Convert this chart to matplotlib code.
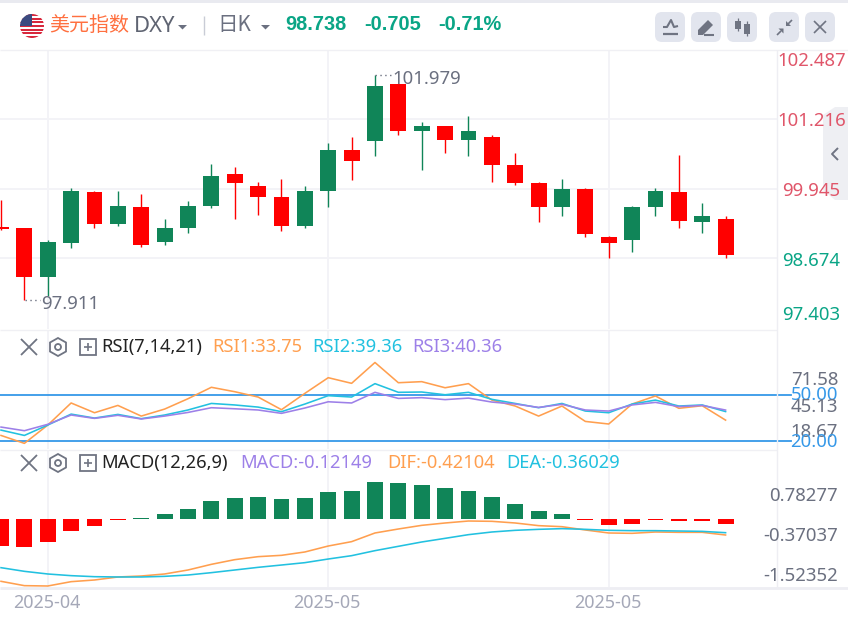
import matplotlib
matplotlib.use("Agg")
import matplotlib.pyplot as plt
from matplotlib.patches import Circle, FancyBboxPatch, Polygon, Rectangle

W, H = 848, 621

# candles, red = close below open
opens = [99.241, 99.222, 98.339, 98.948, 99.881, 99.302, 99.606, 98.973, 99.222, 99.631, 100.210,
         99.990, 99.795, 99.271, 99.905, 100.648, 100.813, 101.855, 101.002, 101.087, 100.837,
         100.892, 100.374, 100.045, 99.606, 99.935, 99.058, 99.003, 99.606, 99.881, 99.332, 99.387]
closes = [99.204, 98.339, 98.973, 99.905, 99.302, 99.631, 98.918, 99.222, 99.631, 100.179, 100.045,
          99.795, 99.271, 99.905, 100.648, 100.453, 101.825, 101.002, 101.087, 100.837, 101.002,
          100.374, 100.045, 99.606, 99.935, 99.113, 98.948, 99.606, 99.905, 99.357, 99.442, 98.729]
highs = [99.740, 99.222, 99.009, 99.960, 99.905, 99.905, 99.850, 99.387, 99.716, 100.399, 100.344,
         100.069, 100.124, 99.990, 100.782, 100.892, 102.026, 101.855, 101.166, 101.087, 101.276,
         100.923, 100.594, 100.069, 100.124, 99.960, 99.082, 99.631, 99.960, 100.563, 99.686, 99.442]
lows = [99.192, 97.912, 97.985, 98.869, 99.222, 99.271, 98.887, 98.918, 99.143, 99.600, 99.387,
        99.466, 99.168, 99.222, 99.606, 100.100, 100.539, 100.923, 100.289, 100.594, 100.539,
        100.069, 100.015, 99.332, 99.442, 99.058, 98.674, 98.784, 99.442, 99.222, 99.143, 98.674]

rsi1 = [23.7, 18.5, 30.5, 45.0, 38.6, 43.4, 36.4, 41.0, 47.8, 55.3, 52.4, 48.9, 40.6, 51.3, 61.6, 57.9,
        71.58, 58.3, 59.0, 55.0, 57.7, 46.9, 43.0, 36.4, 43.0, 32.9, 31.2, 44.3, 49.6, 41.5, 43.2, 33.75]
rsi2 = [27.2, 23.7, 30.5, 37.7, 35.1, 37.5, 34.7, 37.1, 40.4, 44.7, 43.7, 42.3, 39.3, 44.3, 49.8, 48.9,
        57.7, 52.0, 52.2, 50.4, 52.0, 47.4, 44.7, 41.9, 44.7, 39.7, 38.6, 44.3, 46.9, 43.0, 43.7, 39.36]
rsi3 = [29.2, 26.8, 31.0, 37.1, 34.9, 36.9, 34.5, 36.4, 38.8, 41.9, 41.2, 40.4, 38.2, 41.7, 45.8, 45.0,
        52.0, 48.0, 48.5, 47.2, 48.2, 45.6, 44.3, 42.1, 44.1, 40.4, 39.7, 43.7, 45.4, 42.6, 43.4, 40.36]

macd = [-0.711, -0.737, -0.605, -0.316, -0.184, -0.018, 0.018, 0.132, 0.263, 0.474, 0.553, 0.579, 0.526,
        0.553, 0.711, 0.737, 0.974, 0.947, 0.895, 0.816, 0.737, 0.579, 0.395, 0.211, 0.132, -0.018,
        -0.158, -0.132, -0.018, -0.044, -0.044, -0.12149]
dif = [-1.640, -1.754, -1.763, -1.649, -1.605, -1.526, -1.500, -1.447, -1.342, -1.193, -1.070, -0.991,
       -0.956, -0.868, -0.711, -0.596, -0.368, -0.263, -0.167, -0.105, -0.053, -0.061, -0.105, -0.175,
       -0.202, -0.289, -0.368, -0.377, -0.342, -0.351, -0.351, -0.42104]
dea = [-1.281, -1.377, -1.447, -1.491, -1.518, -1.526, -1.526, -1.509, -1.474, -1.412, -1.342, -1.272,
       -1.211, -1.149, -1.053, -0.965, -0.833, -0.719, -0.605, -0.509, -0.412, -0.342, -0.298, -0.272,
       -0.254, -0.272, -0.298, -0.307, -0.307, -0.316, -0.325, -0.36029]

price_grid = [101.216, 99.945, 98.674]
rsi_levels = [50, 20]
month_pos = [2, 14, 26]
month_labels = ["2025-04", "2025-05", "2025-05"]

UP = "#108558"
DOWN = "#ff0000"
GRID = "#f3f3f7"
ORANGE = "#ff9f4f"
CYAN = "#22c1e0"
PURPLE = "#9d80e8"
BLUE = "#3598e8"
TEAL = "#0aa586"
ROSE = "#e0566a"
GREY = "#6b7080"
ICON = "#6f7482"
LATIN = ["Noto Sans", "DejaVu Sans"]
CJK = ["Noto Sans CJK SC", "DejaVu Sans"]

plt.rcParams["font.family"] = LATIN

fig = plt.figure(figsize=(W / 100, H / 100), dpi=100, facecolor="white")


def panel(top, bottom):
    ax = fig.add_axes([0, 1 - bottom / H, 777 / W, (bottom - top) / H])
    ax.set_xlim(-0.043, 33.2)
    ax.set_xticks([])
    ax.set_yticks([])
    for s in ax.spines.values():
        s.set_visible(False)
    for m in month_pos:
        ax.axvline(m, color=GRID, lw=1.4, zorder=0)
    return ax


# price panel
ax1 = panel(50, 329)
ax1.set_ylim(98.674 - 70.7 / 54.7, 98.674 + 208.3 / 54.7)
for g in price_grid:
    ax1.axhline(g, color=GRID, lw=1.4, zorder=0)
x = list(range(len(opens)))
colors = [UP if c >= o else DOWN for o, c in zip(opens, closes)]
ax1.vlines(x, lows, highs, colors=colors, lw=1.0, zorder=2)
ax1.bar(x, [c - o for o, c in zip(opens, closes)], bottom=opens, width=0.68, color=colors, zorder=3)

# rsi panel
ax2 = panel(330, 449)
ax2.set_ylim(14.8, 92.9)
for v in rsi_levels:
    ax2.plot([0, 791 / 777], [v, v], color=BLUE, lw=1.3, clip_on=False, zorder=2,
             transform=ax2.get_yaxis_transform())
ax2.plot(x, rsi1, color=ORANGE, lw=1.15, zorder=3)
ax2.plot(x, rsi2, color=CYAN, lw=1.15, zorder=3)
ax2.plot(x, rsi3, color=PURPLE, lw=1.15, zorder=3)

# macd panel
ax3 = panel(450, 587)
ax3.set_ylim(-68 / 38, 69 / 38)
ax3.bar(x, macd, width=0.68, color=[UP if m > 0 else DOWN for m in macd], zorder=2)
ax3.plot(x, dif, color=ORANGE, lw=1.15, zorder=3)
ax3.plot(x, dea, color=CYAN, lw=1.15, zorder=3)

# overlay in pixel coordinates for the page furniture
ov = fig.add_axes([0, 0, 1, 1], zorder=10)
ov.set_xlim(0, W)
ov.set_ylim(H, 0)
ov.axis("off")
ov.patch.set_alpha(0)


def txt(px, py, s, color, size, ha="left", weight="normal", family=None):
    ov.text(px, py, s, color=color, fontsize=size * 0.72, ha=ha, va="center",
            fontweight=weight, family=family or LATIN)


def line(xs, ys, color=ICON, lw=1.1, **kw):
    ov.plot(xs, ys, color=color, lw=lw, solid_capstyle="butt", **kw)


# frame
ov.add_patch(Rectangle((0, 0), W, 3, color="#e9eaf0", lw=0))
line([0, W], [49.5, 49.5], color="#f0f0f4", lw=1.0)
line([0, 777], [329.5, 329.5], color="#f0f0f4", lw=1.0)
line([0, 777], [449.5, 449.5], color="#f0f0f4", lw=1.0)
line([0, W], [588, 588], color="#eeeef3", lw=2.0)
line([776.5, 776.5], [50, 588], color="#eeeef3", lw=1.0)

# flag
flag_clip = Circle((32, 26), 12, transform=ov.transData)
for k in range(7):
    r = Rectangle((20, 14 + k * 24 / 6.5), 24, 24 / 13, color="#d8283c", lw=0)
    ov.add_patch(r)
    r.set_clip_path(flag_clip)
canton = Rectangle((20, 14), 12, 12, color="#3b4a80", lw=0)
ov.add_patch(canton)
canton.set_clip_path(flag_clip)

# header
txt(49.5, 25, "美元指数", "#ff7040", 20, family=CJK)
txt(134, 27, "DXY", "#5f6472", 22)
ov.add_patch(Polygon([[178, 25], [187, 25], [182.5, 29.5]], color="#6b7080", lw=0))
line([203.5, 203.5], [16, 35], color="#c9ccd6", lw=1.0)
txt(217, 25, "日K", "#6b7080", 20.5, family=CJK)
ov.add_patch(Polygon([[261, 25], [270, 25], [265.5, 29.5]], color="#6b7080", lw=0))
txt(285.5, 24.5, "98.738", TEAL, 20, weight="bold", family=["Liberation Sans"])
txt(364, 24.5, "-0.705", TEAL, 20, weight="bold", family=["Liberation Sans"])
txt(438, 24.5, "-0.71%", TEAL, 20, weight="bold", family=["Liberation Sans"])

# toolbar buttons
for bx in [655, 691, 727, 769, 805]:
    ov.add_patch(FancyBboxPatch((bx + 4, 16), 22, 22, boxstyle="round,pad=4,rounding_size=7",
                                fc="#e2e5ee", ec="none"))
line([663, 678], [33.5, 33.5], lw=1.6)
line([663, 667, 671, 674, 678], [27, 27, 20, 27, 26], lw=1.5)
ov.add_patch(Polygon([[698, 35], [698, 30], [708, 20], [713, 25], [703, 35]], color=ICON, lw=0))
line([704, 714], [34.5, 34.5], lw=1.5)
line([738, 738], [18, 31], lw=0.9)
ov.add_patch(Rectangle((735, 20.5), 6, 8, color=ICON, lw=0))
line([746.5, 746.5], [21, 36], lw=0.9)
ov.add_patch(Rectangle((744, 23.5), 5.5, 10.5, color=ICON, lw=0))
line([777, 781], [35, 31], lw=1.2)
line([792, 788], [20, 24], lw=1.2)
ov.add_patch(Polygon([[783.5, 28.5], [783.5, 33.5], [778.5, 28.5]], color=ICON, lw=0))
ov.add_patch(Polygon([[786, 26], [786, 21], [791, 26]], color=ICON, lw=0))
line([814, 826], [21, 33], lw=1.2)
line([826, 814], [21, 33], lw=1.2)

# collapse tab
ov.add_patch(Polygon([[823, 115], [835, 107], [848, 107], [848, 200], [835, 200], [823, 190]],
                     color="#ecedf2", alpha=0.85, lw=0))
line([838, 832, 838], [148, 154, 160], color=ICON, lw=1.4)

# price labels
for label, py, c in [("102.487", 61, ROSE), ("101.216", 120.5, ROSE), ("99.945", 191, ROSE),
                     ("98.674", 261, TEAL), ("97.403", 315, TEAL)]:
    txt(811.5, py, label, c, 18.6, ha="center")

# high and low marks
line([25, 40], [300, 300], color=GREY, lw=1.0, linestyle=(0, (1, 2.5)))
txt(41.5, 304, "97.911", GREY, 18.6)
line([375, 391], [75, 75], color=GREY, lw=1.0, linestyle=(0, (1, 2.5)))
txt(392.5, 79, "101.979", GREY, 18.6)

# rsi and macd axis labels
for label, py, c in [("71.58", 380, GREY), ("50.00", 395.5, BLUE), ("45.13", 407, GREY),
                     ("18.67", 432, GREY), ("20.00", 442, BLUE)]:
    txt(838, py, label, c, 18.6, ha="right")
for label, py in [("0.78277", 496), ("-0.37037", 536), ("-1.52352", 576)]:
    txt(838, py, label, GREY, 18.6, ha="right")


# indicator title rows
def pane_icons(py):
    line([21, 37], [py - 8, py + 8], lw=1.3)
    line([37, 21], [py - 8, py + 8], lw=1.3)
    ov.add_patch(Polygon([[58, py - 9], [66, py - 4.5], [66, py + 4.5], [58, py + 9], [50, py + 4.5], [50, py - 4.5]],
                         fc="none", ec=ICON, lw=1.3))
    ov.add_patch(Circle((58, py), 3, fc="none", ec=ICON, lw=1.3))
    ov.add_patch(Rectangle((80, py - 8), 16, 16, fc="none", ec=ICON, lw=1.3))
    line([84, 92], [py, py], lw=1.2)
    line([88, 88], [py - 4, py + 4], lw=1.2)


pane_icons(347)
txt(101, 347, "RSI(7,14,21)", "#222222", 18.3)
txt(212.5, 347, "RSI1:33.75", ORANGE, 18.3)
txt(312.5, 347, "RSI2:39.36", CYAN, 18.3)
txt(412.5, 347, "RSI3:40.36", PURPLE, 18.3)

pane_icons(463)
txt(101, 463, "MACD(12,26,9)", "#222222", 18.3)
txt(240, 463, "MACD:-0.12149", PURPLE, 18.3)
txt(387.5, 463, "DIF:-0.42104", ORANGE, 18.3)
txt(506, 463, "DEA:-0.36029", CYAN, 18.3)

# month labels
for m, label in zip(month_pos, month_labels):
    txt(23.37 * m, 603, label, "#a5a8b8", 18, ha="center")

fig.savefig("out.png", dpi=100)
